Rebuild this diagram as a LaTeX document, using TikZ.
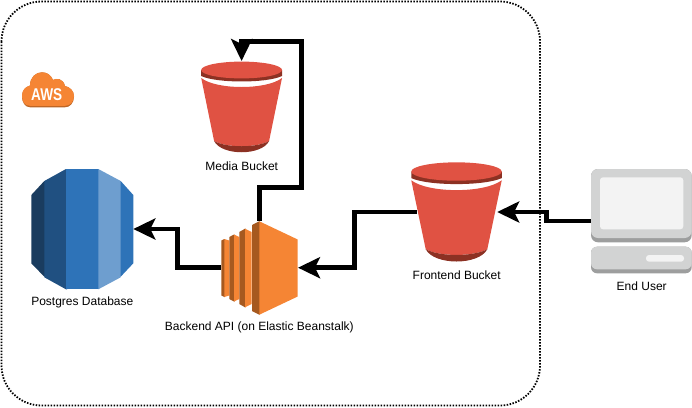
\documentclass[tikz,border=0pt]{standalone}
\usepackage{fontspec}
\setmainfont{Liberation Sans}
\usetikzlibrary{arrows.meta}
\definecolor{bucketred}{HTML}{E05243}
\definecolor{bucketdark}{HTML}{8C3123}
\definecolor{awsorange}{HTML}{F58534}
\definecolor{awsdark}{HTML}{A6591F}
\definecolor{rdsa}{HTML}{1A3C5F}
\definecolor{rdsb}{HTML}{205081}
\definecolor{rdsc}{HTML}{2E73B8}
\definecolor{rdsd}{HTML}{6E9ECF}
\definecolor{pclight}{HTML}{D2D3D3}
\definecolor{pcdark}{HTML}{9D9E9E}
\definecolor{pcscreen}{HTML}{F3F3F3}
\tikzset{
	flow/.style={line width=4.5pt,-{Stealth[length=22pt,width=21pt,inset=5pt]}},
	iconbox/.style={inner sep=0pt,outer sep=0pt},
	lbl/.style={font=\fontsize{12}{14}\selectfont,inner sep=0pt},
	bucket/.pic={
		\fill[bucketred] (-40.4,-29) .. controls (-25,-17) and (25,-17) .. (40.4,-29) -- (27.5,34) .. controls (15,41) and (-15,41) .. (-27.5,34) -- cycle;
		\fill[bucketdark] (-27.5,34) .. controls (-20,49) and (20,49) .. (27.5,34) .. controls (15,41) and (-15,41) .. (-27.5,34) -- cycle;
		\fill[bucketdark] (-40.4,-37) -- (-40.4,-31) .. controls (-25,-23.7) and (25,-23.7) .. (40.4,-31) -- (40.4,-37) -- cycle;
		\fill[bucketred] (0,-37) ellipse [x radius=40.4,y radius=8.4];
	}
}
\begin{document}
\begin{tikzpicture}[x=1pt,y=-1pt]
	\useasboundingbox (0,0) rectangle (692,407);
	\draw[line width=1.8pt,dash pattern=on 1.5pt off 1.5pt,rounded corners=40pt] (1.5,1.5) rectangle (540,405.5);

	% aws cloud
	\fill[awsdark!70!awsorange] (30,107.3) .. controls (25,107.3) and (22,102) .. (22,97) .. controls (22,91) and (25,87) .. (30,85.5) .. controls (30,77) and (36,72.3) .. (42,72.3) .. controls (47,72.3) and (51,75) .. (53,80) .. controls (56,78) and (63,78) .. (65,86) .. controls (70,87) and (74,91) .. (74,96.5) .. controls (74,103) and (70,107.3) .. (65,107.3) -- cycle;
	\fill[awsorange] (30,105.8) .. controls (25,105.8) and (22,102) .. (22,96) .. controls (22,90) and (25,87) .. (30,85.5) .. controls (30,77) and (36,72.3) .. (42,72.3) .. controls (47,72.3) and (51,75) .. (53,80) .. controls (56,78) and (63,78) .. (65,86) .. controls (70,87) and (74,91) .. (74,96) .. controls (74,102) and (70,105.8) .. (65,105.8) -- cycle;
	\node[iconbox,text=white,xscale=.8,font=\fontsize{17}{17}\selectfont\bfseries] (awslogo) at (46.7,95) {AWS};

	% database
	\fill[rdsa] (31.3,195) -- (44.3,181) -- (45,181) -- (45,276.7) -- (44.3,276.7) -- (31.3,263.3) -- cycle;
	\fill[rdsb] (44.3,181) -- (66,169) -- (67,169) -- (67,289.3) -- (66,289.3) -- (44.3,277.3) -- cycle;
	\fill[rdsc] (66,169) rectangle (99,289.3);
	\fill[rdsc] (120,181) -- (120.7,181) -- (133.3,195) -- (133.3,263.3) -- (120.7,276.7) -- (120,276.7) -- cycle;
	\fill[rdsd] (98.3,169) -- (120.7,181) -- (120.7,277.3) -- (98.3,289.3) -- cycle;
	\node[iconbox,minimum width=102pt,minimum height=120pt] (rds) at (82.3,229) {};

	% beanstalk
	\foreach \xa/\xb/\xc/\ya/\yb/\yc in {221.3/224.3/229.3/27.5/29/27.5,229.3/234/239.3/31/33.5/31,239.3/245/251.7/36/39.3/36,252/259.3/297.7/43/46.7/28.5}
	{
		\fill[awsdark] (\xa,268-\ya) -- (\xb,268-\yb) -- (\xb+.6,268-\yb) -- (\xb+.6,268+\yb) -- (\xb,268+\yb) -- (\xa,268+\ya) -- cycle;
		\fill[awsorange] (\xb,268-\yb) -- (\xc,268-\yc) -- (\xc,268+\yc) -- (\xb,268+\yb) -- cycle;
	}
	\node[iconbox,minimum width=77pt,minimum height=93pt] (beanstalk) at (259.5,267.7) {};

	% buckets
	\pic at (241.6,107) {bucket};
	\pic[xscale=1.12,yscale=1.094] at (456.5,212) {bucket};
	\node[iconbox,minimum width=81pt,minimum height=92pt] (mediabucket) at (241.6,107) {};
	\node[iconbox,minimum width=91pt,minimum height=100pt] (frontbucket) at (456.5,212) {};

	% computer
	\fill[pcdark,rounded corners=7pt] (591,169) rectangle (691.7,242.3);
	\fill[pclight,rounded corners=7pt] (591,169) rectangle (691.7,238);
	\fill[pcscreen,rounded corners=3pt] (600,177.3) rectangle (683.3,229.3);
	\fill[pcdark,rounded corners=6pt] (591,246.7) rectangle (691.7,273.3);
	\fill[pclight,rounded corners=6pt] (591,246.7) rectangle (691.7,269.3);
	\fill[pcscreen,rounded corners=3pt] (646,255) rectangle (684,261.7);
	\node[iconbox,minimum width=100.7pt,minimum height=104pt] (enduser) at (641.3,221) {};

	\node[lbl] (medialbl) at (241.7,166.7) {Media Bucket};
	\node[lbl] (frontlbl) at (456.7,275.7) {Frontend Bucket};
	\node[lbl] (userlbl) at (641.7,286.7) {End User};
	\node[lbl] (rdslbl) at (82.3,302.7) {Postgres Database};
	\node[lbl] (beanlbl) at (259.3,327.7) {Backend API (on Elastic Beanstalk)};

	% connectors
	\coordinate (userbend) at (546.7,221);
	\coordinate (frontbend) at (354.7,212);
	\coordinate (rdsbend) at (177.7,267.7);
	\coordinate (mediabenda) at (301.7,187.3);
	\coordinate (mediabendb) at (301.7,41.7);
	\draw[flow] (enduser.west) -- (userbend) |- ([xshift=-4.8pt]frontbucket.east);
	\draw[flow] ([xshift=6pt]frontbucket.west) -- (frontbend) |- (beanstalk.east);
	\draw[flow] (beanstalk.west) -- (rdsbend) |- (rds.east);
	\draw[flow] (beanstalk.north) |- (mediabenda) -- (mediabendb) -| (mediabucket.north);
\end{tikzpicture}
\end{document}
